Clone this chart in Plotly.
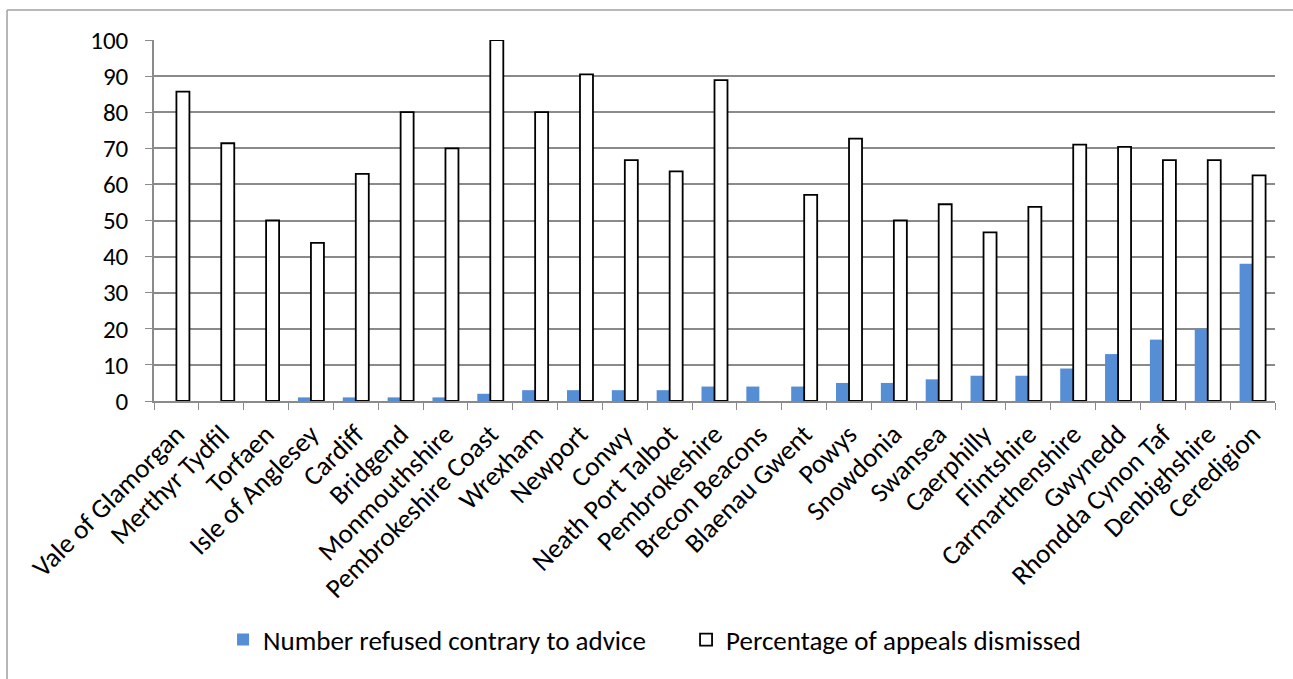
import plotly.graph_objects as go

areas = [
    "Vale of Glamorgan", "Merthyr Tydfil", "Torfaen", "Isle of Anglesey", "Cardiff",
    "Bridgend", "Monmouthshire", "Pembrokeshire Coast", "Wrexham", "Newport",
    "Conwy", "Neath Port Talbot", "Pembrokeshire", "Brecon Beacons", "Blaenau Gwent",
    "Powys", "Snowdonia", "Swansea", "Caerphilly", "Flintshire",
    "Carmarthenshire", "Gwynedd", "Rhondda Cynon Taf", "Denbighshire", "Ceredigion",
]
refused_contrary = [0, 0, 0, 1, 1, 1, 1, 2, 3, 3, 3, 3, 4, 4, 4, 5, 5, 6, 7, 7, 9, 13, 17, 20, 38]
pct_dismissed = [85.7, 71.4, 50, 43.8, 62.9, 80, 70, 100, 80, 90.5, 66.7, 63.6, 88.9, None,
                 57.1, 72.7, 50, 54.5, 46.7, 53.8, 71, 70.4, 66.7, 66.7, 62.5]
y_ticks = [0, 10, 20, 30, 40, 50, 60, 70, 80, 90, 100]

FONT = "Carlito, Calibri, Lato, sans-serif"
GRID = "#8a8a8a"

fig = go.Figure()
fig.add_trace(go.Bar(
    x=areas, y=refused_contrary, name="Number refused contrary to advice",
    marker=dict(color="#558ed5", line=dict(width=0)),
))
fig.add_trace(go.Bar(
    x=areas, y=pct_dismissed, name="Percentage of appeals dismissed",
    marker=dict(color="white", line=dict(color="black", width=1.8)),
))

fig.update_layout(
    width=1293, height=679,
    margin=dict(l=154, r=18, t=40, b=278),
    paper_bgcolor="white", plot_bgcolor="white",
    barmode="group", bargap=0.42, bargroupgap=0,
    font=dict(family=FONT, size=26, color="black"),
    showlegend=True,
    legend=dict(
        orientation="h", x=0.0616, xanchor="left", y=-0.662, yanchor="middle",
        font=dict(family=FONT, size=27), traceorder="normal",
        entrywidth=418, itemwidth=30,
    ),
    xaxis=dict(
        type="category", tickangle=-45, tickson="boundaries",
        ticks="outside", ticklen=7, tickcolor=GRID,
        showline=True, linecolor=GRID, linewidth=1.5,
        showgrid=False, automargin=False, ticklabelstandoff=5,
        tickfont=dict(family=FONT, size=27),
    ),
    yaxis=dict(
        range=[0, 100], tickvals=y_ticks, ticks="outside", ticklen=7, tickcolor=GRID,
        showline=True, linecolor=GRID, linewidth=1.5,
        showgrid=True, gridcolor=GRID, gridwidth=1.5,
        zeroline=False, automargin=False, ticklabelstandoff=12,
        tickfont=dict(family=FONT, size=25),
    ),
    shapes=[
        dict(type="line", xref="paper", yref="paper",
             x0=-0.1311, x1=1.2, y0=1.0831, y1=1.0831,
             line=dict(color="#a0a0a0", width=1.5)),
        dict(type="line", xref="paper", yref="paper",
             x0=-0.1311, x1=-0.1311, y0=1.0831, y1=-1.0,
             line=dict(color="#a0a0a0", width=1.5)),
    ],
)

fig.write_html("out.html")
